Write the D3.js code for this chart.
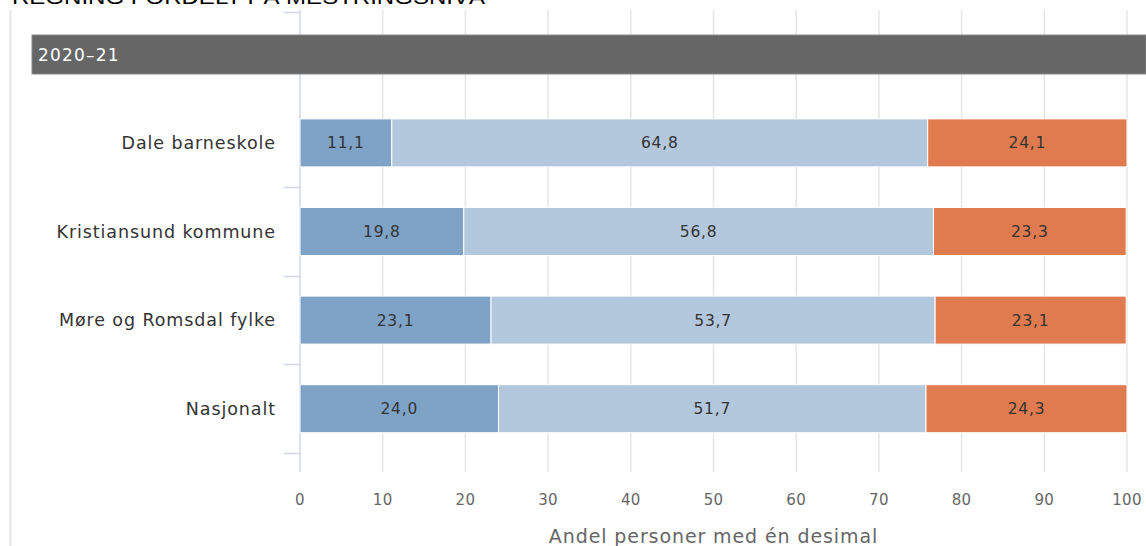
<!DOCTYPE html>
<html>
<head>
<meta charset="utf-8">
<script src="https://cdn.jsdelivr.net/npm/d3@7/dist/d3.min.js"></script>
<style>
  body { margin: 0; background: #fff; }
  svg { display: block; font-family: "DejaVu Sans", Verdana, sans-serif; }
</style>
</head>
<body>
<div id="chart"></div>
<script>
// Regning fordelt på mestringsnivå, 2020-21

const categories = ['', 'Dale barneskole', 'Kristiansund kommune', 'Møre og Romsdal fylke', 'Nasjonalt'];
const levelNames = ['Mestringsnivå 1', 'Mestringsnivå 2', 'Mestringsnivå 3'];
const level1 = [null, 11.1, 19.8, 23.1, 24.0];
const level2 = [null, 64.8, 56.8, 53.7, 51.7];
const level3 = [null, 24.1, 23.3, 23.1, 24.3];
const xTicks = [0, 10, 20, 30, 40, 50, 60, 70, 80, 90, 100];
const colors = ['#7fa3c7', '#b3c8dd', '#e07b4f'];

const width = 1146, height = 546;
const plot = { left: 300, right: 1127, top: 10, bottom: 472, catBottom: 453 };

const svg = d3.select('#chart').append('svg')
  .attr('width', width)
  .attr('height', height);

// Title (partly cut off at the top, as in the screenshot)
svg.append('text')
  .attr('x', 12)
  .attr('y', 4)
  .attr('font-family', '"Liberation Sans", Arial, sans-serif')
  .attr('font-size', '21px')
  .attr('fill', '#000')
  .attr('textLength', 473)
  .attr('lengthAdjust', 'spacingAndGlyphs')
  .text('REGNING FORDELT PÅ MESTRINGSNIVÅ');

// Left frame line
svg.append('line')
  .attr('x1', 10.5).attr('x2', 10.5)
  .attr('y1', 10).attr('y2', height)
  .attr('stroke', '#e6e6e6')
  .attr('stroke-width', 2);

const x = d3.scaleLinear().domain([0, 100]).range([plot.left, plot.right]);
const y = d3.scaleBand().domain(categories).range([plot.top, plot.catBottom]);

// Vertical gridlines
svg.append('g')
  .selectAll('line')
  .data(xTicks.filter(t => t > 0))
  .enter()
  .append('line')
  .attr('x1', d => x(d)).attr('x2', d => x(d))
  .attr('y1', plot.top).attr('y2', plot.bottom)
  .attr('stroke', '#e6e6e6')
  .attr('stroke-width', 1.5);

// Category axis line and ticks
const yAxisG = svg.append('g');
yAxisG.append('line')
  .attr('x1', plot.left).attr('x2', plot.left)
  .attr('y1', plot.top).attr('y2', plot.bottom)
  .attr('stroke', '#ccd6eb')
  .attr('stroke-width', 1.5);
// ticks: top of the header row, then below each real category
const boundaries = [plot.top + 2].concat(categories.filter(c => c).map(c => y(c) + y.bandwidth()));
yAxisG.selectAll('.ytick')
  .data(boundaries)
  .enter()
  .append('line')
  .attr('x1', plot.left - 16).attr('x2', plot.left)
  .attr('y1', d => Math.round(d) + 0.5).attr('y2', d => Math.round(d) + 0.5)
  .attr('stroke', '#ccd6eb')
  .attr('stroke-width', 1.5);
yAxisG.selectAll('.ylabel')
  .data(categories.filter(c => c))
  .enter()
  .append('text')
  .attr('x', 276)
  .attr('y', d => y(d) + y.bandwidth() / 2)
  .attr('dy', '0.36em')
  .attr('text-anchor', 'end')
  .attr('fill', '#333')
  .attr('font-size', '17.5px')
  .attr('letter-spacing', '0.9px')
  .text(d => d);

// Header band for the school year
const header = svg.append('g');
header.append('rect')
  .attr('x', 32)
  .attr('y', 35)
  .attr('width', width - 32)
  .attr('height', 39)
  .attr('fill', '#666666')
  .attr('stroke', '#888')
  .attr('stroke-width', 1);
header.append('text')
  .attr('x', 38)
  .attr('y', 61)
  .attr('fill', '#fff')
  .attr('font-size', '17px')
  .attr('letter-spacing', '1.2px')
  .text('2020–21');

// Stacked bars
const fmt = v => d3.format('.1f')(v).replace('.', ',');
const seriesValues = [level1, level2, level3];
const rows = categories.map((c, i) => ({ cat: c, vals: seriesValues.map(s => s[i]) }))
  .filter(r => r.vals[0] !== null);

const barH = 48;
const barG = svg.append('g');
rows.forEach(r => {
  let acc = 0;
  const yc = y(r.cat) + y.bandwidth() / 2;
  r.vals.forEach((v, k) => {
    const x0 = x(acc), x1 = x(acc + v);
    barG.append('rect')
      .attr('x', x0)
      .attr('y', yc - barH / 2)
      .attr('width', x1 - x0)
      .attr('height', barH)
      .attr('fill', colors[k])
      .attr('stroke', '#fff')
      .attr('stroke-width', 1);
    barG.append('text')
      .attr('x', (x0 + x1) / 2)
      .attr('y', yc)
      .attr('dy', '0.36em')
      .attr('text-anchor', 'middle')
      .attr('fill', '#333')
      .attr('font-size', '15.5px')
      .attr('letter-spacing', '0.8px')
      .text(fmt(v));
    acc += v;
  });
});

// Value axis labels
svg.append('g')
  .selectAll('text')
  .data(xTicks)
  .enter()
  .append('text')
  .attr('x', d => x(d))
  .attr('y', 505)
  .attr('text-anchor', 'middle')
  .attr('fill', '#666')
  .attr('font-size', '15px')
  .attr('letter-spacing', '0.3px')
  .text(d => d);

svg.append('text')
  .attr('x', (plot.left + plot.right) / 2)
  .attr('y', 543)
  .attr('text-anchor', 'middle')
  .attr('fill', '#666')
  .attr('font-size', '19px')
  .attr('letter-spacing', '0.9px')
  .text('Andel personer med én desimal');
</script>
</body>
</html>
